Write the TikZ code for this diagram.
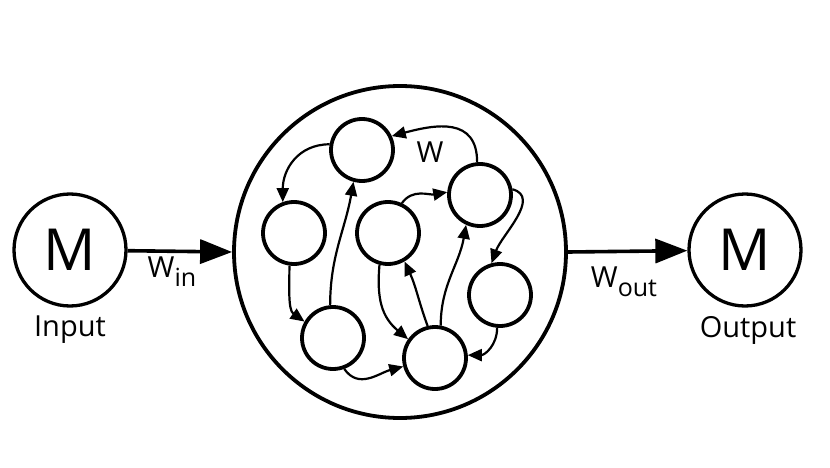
\documentclass[tikz,border=0pt]{standalone}
\usepackage{fontspec}
\setmainfont{Open Sans}
\usetikzlibrary{arrows.meta}
\newcommand{\subsc}[1]{\raisebox{-0.32em}{\fontsize{25}{25}\selectfont #1}}
\begin{document}
\begin{tikzpicture}[x=1pt,y=-1pt,
  io/.style={circle,draw,line width=3.3pt,minimum size=112pt,inner sep=0pt,font=\fontsize{58}{58}\selectfont},
  neuron/.style={circle,draw,line width=3.8pt,minimum size=62pt,inner sep=0pt},
  big/.style={circle,draw,line width=3.8pt,minimum size=332pt,inner sep=0pt},
  mainarr/.style={line width=3.6pt,-{Triangle[length=32pt,width=24pt]}},
  edge/.style={line width=2.2pt,-{Triangle[length=14pt,width=12pt]}},
  lbl/.style={font=\fontsize{29}{29}\selectfont}]
\useasboundingbox (0,0) rectangle (830,468);
\node[io] (in) at (70,250) {M};
\node[io] (out) at (745,250) {M};
\node[big] (res) at (400,252) {};
\node[lbl] (inlbl) at (70,330) {Input};
\node[lbl] (outlbl) at (748,330) {Output};
\draw[mainarr] (in) -- (res.west);
\draw[mainarr] (res.east) -- (out);
\node[lbl] (win) at (172,272) {W\subsc{in}};
\node[lbl] (wout) at (624,282) {W\subsc{out}};
\node[lbl] (w) at (430,152) {W};
\node[neuron] (n1) at (362,150) {};
\node[neuron] (n2) at (294,233) {};
\node[neuron] (n3) at (388,233) {};
\node[neuron] (n4) at (480,195) {};
\node[neuron] (n5) at (500,295) {};
\node[neuron] (n6) at (333,338) {};
\node[neuron] (n7) at (435,358) {};
\draw[edge] (n4.95) to[out=90,in=15,looseness=1.3] (n1.25);
\draw[edge] (n1.170) to[out=180,in=90,looseness=1.1] (n2.110);
\draw[edge] (n2.262) to[out=-90,in=145,looseness=0.9] (n6.150);
\draw[edge] (n6.95) to[out=90,in=-100] (n1.255);
\draw[edge] (n6.290) to[out=-55,in=195,looseness=1.1] (n7.195);
\draw[edge] (n3.255) to[out=-95,in=140,looseness=1.1] (n7.145);
\draw[edge] (n7.103) to[out=110,in=-65] (n3.300);
\draw[edge] (n7.80) to[out=90,in=-100] (n4.245);
\draw[edge] (n3.65) to[out=55,in=190] (n4.175);
\draw[edge] (n4.10) to[out=-15,in=70,looseness=1] (n5.105);
\draw[edge] (n5.265) to[out=-90,in=0,looseness=1.1] (n7.5);
\end{tikzpicture}
\end{document}
